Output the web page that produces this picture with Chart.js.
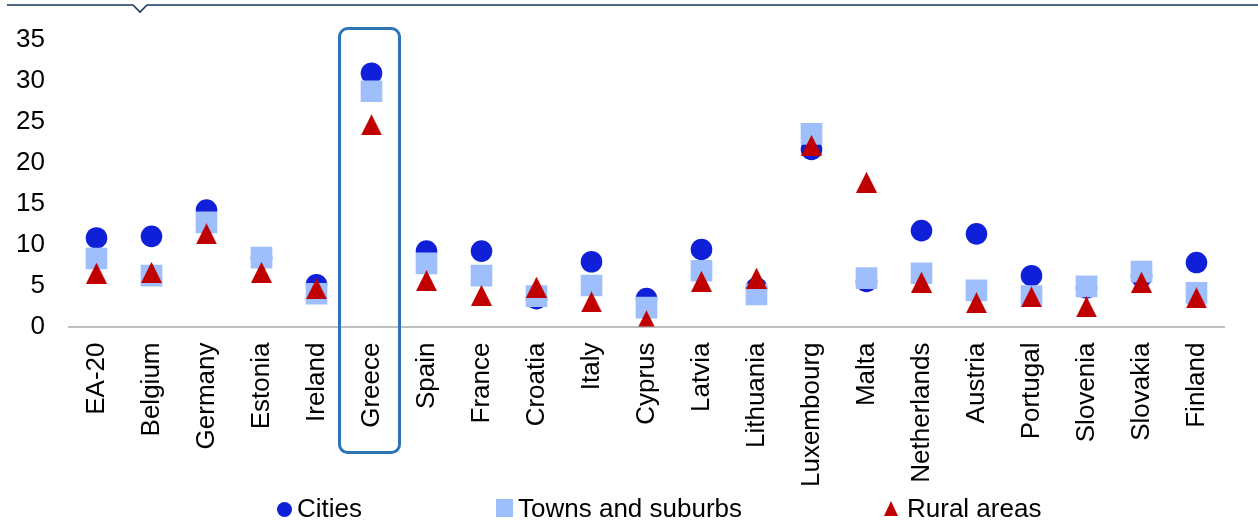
<!DOCTYPE html>
<html>
<head>
<meta charset="utf-8">
<script src="https://cdn.jsdelivr.net/npm/chart.js@4.4.1/dist/chart.umd.min.js"></script>
<style>
    html, body { margin: 0; padding: 0; background: #fff; }
    #wrap { position: relative; width: 1258px; height: 522px; font-family: "Liberation Sans", Arial, sans-serif; }
    #chart { position: absolute; left: 0; top: 0; }
    .legendItem { position: absolute; top: 494px; height: 28px; line-height: 28px; font-size: 26px; color: #000; white-space: nowrap; }
    .mk { position: absolute; }
</style>
</head>
<body>
<div id="wrap">
    <canvas id="chart" width="1258" height="522"></canvas>
    <div class="legendItem" style="left:277px;"><span class="mk" style="left:0;top:8px;width:15px;height:15px;border-radius:50%;background:#1020D8;"></span><span style="position:absolute;left:20px;">Cities</span></div>
    <div class="legendItem" style="left:496px;"><span class="mk" style="left:0;top:5px;width:17px;height:18px;background:#9EBFFC;"></span><span style="position:absolute;left:22px;">Towns and suburbs</span></div>
    <div class="legendItem" style="left:884px;"><span class="mk" style="left:0;top:7px;width:0;height:0;border-left:7.5px solid transparent;border-right:7.5px solid transparent;border-bottom:15px solid #C00000;"></span><span style="position:absolute;left:23px;">Rural areas</span></div>
</div>
<script>
    var countries = ['EA-20', 'Belgium', 'Germany', 'Estonia', 'Ireland', 'Greece', 'Spain', 'France', 'Croatia', 'Italy',
        'Cyprus', 'Latvia', 'Lithuania', 'Luxembourg', 'Malta', 'Netherlands', 'Austria', 'Portugal', 'Slovenia', 'Slovakia', 'Finland'];
    var cities = [10.8, 11.0, 14.2, 8.3, 5.1, 30.9, 9.2, 9.2, 3.4, 7.9, 3.4, 9.4, 4.7, 21.6, 5.5, 11.7, 11.3, 6.2, 4.7, 6.1, 7.8];
    var towns = [8.3, 6.2, 12.7, 8.4, 4.0, 28.7, 7.7, 6.2, 3.7, 5.0, 2.3, 6.8, 3.9, 23.5, 5.9, 6.5, 4.4, 3.7, 4.9, 6.7, 4.1];
    var rural = [6.5, 6.6, 11.3, 6.6, 4.6, 24.6, 5.6, 3.8, 4.8, 3.0, 0.7, 5.5, 5.9, 22.1, 17.6, 5.4, 2.9, 3.6, 2.4, 5.4, 3.5];
    var highlighted = 'Greece';

    var colors = {
        cities: '#1020D8',
        towns: '#9EBFFC',
        rural: '#C00000',
        axis: '#BFBFBF',
        frame: '#17375E',
        box: '#2E75B6'
    };

    // triangle marker as an image so its box is centred on the value
    function makeTriangle(w, h, color) {
        var c = document.createElement('canvas');
        c.width = w;
        c.height = h;
        var g = c.getContext('2d');
        g.fillStyle = color;
        g.beginPath();
        g.moveTo(w / 2, 0);
        g.lineTo(w, h);
        g.lineTo(0, h);
        g.closePath();
        g.fill();
        return c;
    }

    var decorations = {
        id: 'decorations',
        afterDraw: function (chart) {
            var ctx = chart.ctx;
            var area = chart.chartArea;
            var x = chart.scales.x.getPixelForValue(countries.indexOf(highlighted));
            ctx.save();
            // top rule with small notch
            ctx.strokeStyle = colors.frame;
            ctx.lineWidth = 1.6;
            ctx.beginPath();
            ctx.moveTo(7, 5);
            ctx.lineTo(133, 5);
            ctx.lineTo(140, 12);
            ctx.lineTo(147, 5);
            ctx.lineTo(1258, 5);
            ctx.stroke();
            // highlight box around Greece
            ctx.strokeStyle = colors.box;
            ctx.lineWidth = 3;
            ctx.beginPath();
            ctx.roundRect(x - 32, area.top - 11, 60, area.bottom - area.top + 137, 8);
            ctx.stroke();
            ctx.restore();
        }
    };

    function buildDataset(label, data, style, radius, color, order) {
        return {
            label: label,
            data: data,
            showLine: false,
            pointStyle: style,
            pointRadius: radius,
            pointBackgroundColor: color,
            pointBorderWidth: 0,
            order: order
        };
    }

    var ctx = document.getElementById('chart').getContext('2d');
    new Chart(ctx, {
        type: 'line',
        data: {
            labels: countries,
            datasets: [
                buildDataset('Cities', cities, 'circle', 10.8, colors.cities, 3),
                buildDataset('Towns and suburbs', towns, 'rect', 15.3, colors.towns, 2),
                buildDataset('Rural areas', rural, makeTriangle(21, 21, colors.rural), 11, colors.rural, 1)
            ]
        },
        options: {
            responsive: false,
            animation: false,
            events: [],
            layout: {padding: {top: 35, right: 34, left: 0, bottom: 0}},
            plugins: {
                legend: {display: false},
                tooltip: {enabled: false}
            },
            scales: {
                x: {
                    offset: true,
                    grid: {display: false, drawTicks: false},
                    border: {display: true, color: colors.axis, width: 2},
                    ticks: {
                        autoSkip: false,
                        maxRotation: 90,
                        minRotation: 90,
                        padding: 16,
                        color: '#000',
                        font: {family: 'Liberation Sans', size: 26}
                    },
                    afterFit: function (scale) {
                        scale.height = 195.5;
                    }
                },
                y: {
                    min: 0,
                    max: 35,
                    grid: {display: false, drawTicks: false},
                    border: {display: false},
                    ticks: {
                        stepSize: 5,
                        padding: 24,
                        color: '#000',
                        font: {family: 'Liberation Sans', size: 26}
                    },
                    afterFit: function (scale) {
                        scale.width = 69;
                    }
                }
            }
        },
        plugins: [decorations]
    });
</script>
</body>
</html>
